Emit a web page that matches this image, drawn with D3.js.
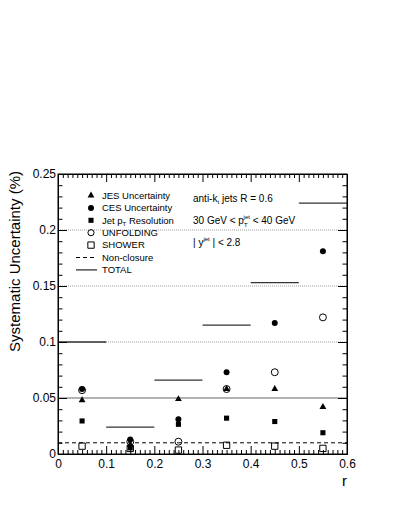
<!DOCTYPE html>
<html>
<head>
<meta charset="utf-8">
<script src="https://cdn.jsdelivr.net/npm/d3@7"></script>
<style>
  body { margin: 0; background: #fff; }
  svg text { font-family: "Liberation Sans", Arial, Helvetica, sans-serif; fill: #000; }
</style>
</head>
<body>
<div id="chart"></div>
<script>
// bins in r
const binEdges = [0, 0.1, 0.2, 0.3, 0.4, 0.5, 0.6];
const rCenters = [0.05, 0.15, 0.25, 0.35, 0.45, 0.55];
const jes       = [0.048, 0.008, 0.049, 0.058, 0.058, 0.042];
const ces       = [0.058, 0.013, 0.031, 0.073, 0.117, 0.181];
const jetPtRes  = [0.0295, 0.0055, 0.0265, 0.032, 0.029, 0.019];
const unfolding = [0.057, 0.011, 0.011, 0.058, 0.073, 0.122];
const shower    = [0.007, 0.005, 0.0035, 0.0078, 0.007, 0.005];
const nonClosure = 0.01;
const total     = [0.100, 0.024, 0.066, 0.115, 0.153, 0.224];
const yGrid = [0.1, 0.15, 0.2];
const yTicks = [0, 0.05, 0.1, 0.15, 0.2, 0.25];
const xTicks = [0, 0.1, 0.2, 0.3, 0.4, 0.5, 0.6];

const W = 395, H = 511;
const padL = 58, padR = 347, padT = 174, padB = 454;

const svg = d3.select("#chart").append("svg")
  .attr("width", W).attr("height", H);

const x = d3.scaleLinear().domain([0, 0.6]).range([padL, padR]);
const y = d3.scaleLinear().domain([0, 0.25]).range([padB, padT]);

// grid lines
svg.selectAll(".grid")
  .data(yGrid)
  .enter().append("line")
    .attr("x1", padL).attr("x2", padR)
    .attr("y1", d => y(d)).attr("y2", d => y(d))
    .attr("stroke", "#999").attr("stroke-width", 1)
    .attr("stroke-dasharray", "1,1");

svg.append("line")
  .attr("x1", padL).attr("x2", padR)
  .attr("y1", y(0.05)).attr("y2", y(0.05))
  .attr("stroke", "#666").attr("stroke-width", 1);

// non-closure
svg.append("line")
  .attr("x1", padL).attr("x2", padR)
  .attr("y1", y(nonClosure)).attr("y2", y(nonClosure))
  .attr("stroke", "#000").attr("stroke-width", 1)
  .attr("stroke-dasharray", "4,3");

// total
svg.selectAll(".total")
  .data(total)
  .enter().append("line")
    .attr("x1", (d, i) => x(binEdges[i]))
    .attr("x2", (d, i) => x(binEdges[i + 1]))
    .attr("y1", d => y(d)).attr("y2", d => y(d))
    .attr("stroke", "#333").attr("stroke-width", 1.3);

// markers
function markers(vals, type, filled, size) {
  svg.selectAll(null)
    .data(vals)
    .enter().append("path")
      .attr("d", d3.symbol().type(type).size(size))
      .attr("transform", (d, i) => "translate(" + x(rCenters[i]) + "," + y(d) + ")")
      .attr("fill", filled ? "#000" : "none")
      .attr("stroke", "#000")
      .attr("stroke-width", filled ? 0 : 1);
}
markers(shower, d3.symbolSquare, false, 40);
markers(unfolding, d3.symbolCircle, false, 38);
markers(jetPtRes, d3.symbolSquare, true, 26);
markers(ces, d3.symbolCircle, true, 28);
markers(jes, d3.symbolTriangle, true, 20);

// axes: ticks point inside like ROOT
const minorX = d3.range(0, 61).map(d => d / 100).filter(d => Math.round(d * 100) % 10 !== 0);
const minorY = d3.range(0, 26).map(d => d / 100).filter(d => Math.round(d * 100) % 5 !== 0);

const fmt = d => d === 0 ? "0" : d3.format("~g")(d);

svg.append("g").attr("transform", "translate(0," + padB + ")")
  .call(d3.axisBottom(x).tickValues(xTicks).tickSizeInner(-8).tickSizeOuter(0).tickPadding(5).tickFormat(fmt));
svg.append("g").attr("transform", "translate(0," + padB + ")")
  .call(d3.axisBottom(x).tickValues(minorX).tickSizeInner(-4).tickSizeOuter(0).tickFormat(""));
svg.append("g").attr("transform", "translate(0," + padT + ")")
  .call(d3.axisTop(x).tickValues(xTicks).tickSizeInner(-8).tickSizeOuter(0).tickFormat(""));
svg.append("g").attr("transform", "translate(0," + padT + ")")
  .call(d3.axisTop(x).tickValues(minorX).tickSizeInner(-4).tickSizeOuter(0).tickFormat(""));

svg.append("g").attr("transform", "translate(" + padL + ",0)")
  .call(d3.axisLeft(y).tickValues(yTicks).tickSizeInner(-9).tickSizeOuter(0).tickPadding(2).tickFormat(fmt));
svg.append("g").attr("transform", "translate(" + padL + ",0)")
  .call(d3.axisLeft(y).tickValues(minorY).tickSizeInner(-4.5).tickSizeOuter(0).tickFormat(""));
svg.append("g").attr("transform", "translate(" + padR + ",0)")
  .call(d3.axisRight(y).tickValues(yTicks).tickSizeInner(-9).tickSizeOuter(0).tickFormat(""));
svg.append("g").attr("transform", "translate(" + padR + ",0)")
  .call(d3.axisRight(y).tickValues(minorY).tickSizeInner(-4.5).tickSizeOuter(0).tickFormat(""));

svg.selectAll(".tick line").attr("stroke", "#000");
svg.selectAll(".domain").attr("stroke", "#000");
svg.selectAll(".tick text").attr("font-size", 12)
  .attr("font-family", "'Liberation Sans', Arial, sans-serif");

// frame
svg.append("rect")
  .attr("x", padL).attr("y", padT)
  .attr("width", padR - padL).attr("height", padB - padT)
  .attr("fill", "none").attr("stroke", "#000").attr("stroke-width", 1);

// axis titles
svg.append("text")
  .attr("x", padR).attr("y", 486)
  .attr("text-anchor", "end").attr("font-size", 15)
  .text("r");

svg.append("text")
  .attr("transform", "translate(20," + (padT - 3) + ") rotate(-90)")
  .attr("text-anchor", "end").attr("font-size", 15)
  .text("Systematic Uncertainty (%)");

// legend
const legendItems = [
  {label: "JES Uncertainty", kind: "sym", type: d3.symbolTriangle, filled: true, size: 20},
  {label: "CES Uncertainty", kind: "sym", type: d3.symbolCircle, filled: true, size: 28},
  {label: ["Jet p", "T", " Resolution"], kind: "sym", type: d3.symbolSquare, filled: true, size: 26},
  {label: "UNFOLDING", kind: "sym", type: d3.symbolCircle, filled: false, size: 30},
  {label: "SHOWER", kind: "sym", type: d3.symbolSquare, filled: false, size: 40},
  {label: "Non-closure", kind: "dash"},
  {label: "TOTAL", kind: "line"}
];

const legend = svg.append("g");
legendItems.forEach((it, i) => {
  const cy = 195.5 + i * 12.4;
  if (it.kind === "sym") {
    legend.append("path")
      .attr("d", d3.symbol().type(it.type).size(it.size))
      .attr("transform", "translate(91," + cy + ")")
      .attr("fill", it.filled ? "#000" : "none")
      .attr("stroke", "#000").attr("stroke-width", it.filled ? 0 : 1);
  } else {
    legend.append("line")
      .attr("x1", 76).attr("x2", 97).attr("y1", cy).attr("y2", cy)
      .attr("stroke", it.kind === "dash" ? "#000" : "#333")
      .attr("stroke-width", it.kind === "dash" ? 1 : 1.3)
      .attr("stroke-dasharray", it.kind === "dash" ? "4,3" : null);
  }
  const t = legend.append("text").attr("x", 102).attr("y", cy + 3.3).attr("font-size", 9.5);
  if (Array.isArray(it.label)) {
    t.append("tspan").text(it.label[0]);
    t.append("tspan").attr("font-size", 6).attr("dy", 2.5).text(it.label[1]);
    t.append("tspan").attr("dy", -2.5).text(it.label[2]);
  } else {
    t.text(it.label);
  }
});

// cut labels
const lab1 = svg.append("text").attr("x", 193).attr("y", 201.5).attr("font-size", 10);
lab1.append("tspan").text("anti-k");
lab1.append("tspan").attr("font-size", 6).attr("dy", 2.5).text("t");
lab1.append("tspan").attr("dy", -2.5).text(" jets R = 0.6");

const lab2 = svg.append("text").attr("x", 193).attr("y", 224).attr("font-size", 10);
lab2.append("tspan").text("30 GeV < p");
lab2.append("tspan").attr("font-size", 6).attr("dy", 2.5).text("T");
lab2.append("tspan").attr("font-size", 6).attr("dx", -4).attr("dy", -8).text("jet");
lab2.append("tspan").attr("dy", 5.5).text(" < 40 GeV");

const lab3 = svg.append("text").attr("x", 193).attr("y", 246).attr("font-size", 10);
lab3.append("tspan").text("| y");
lab3.append("tspan").attr("font-size", 6).attr("dy", -5).text("jet");
lab3.append("tspan").attr("dy", 5).text(" | < 2.8");
</script>
</body>
</html>
